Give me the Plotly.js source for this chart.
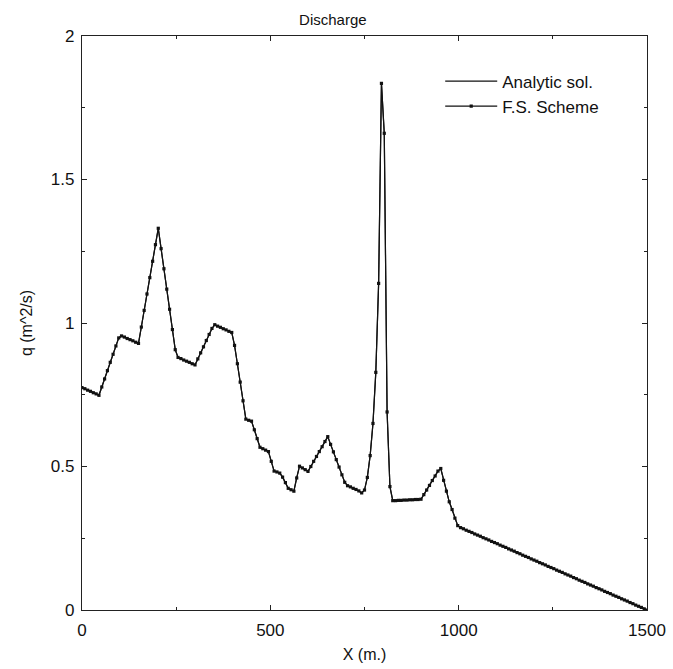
<!DOCTYPE html>
<html>
<head>
<meta charset="utf-8">
<script src="https://cdn.plot.ly/plotly-3.0.1.min.js"></script>
<style>
  html, body { margin: 0; padding: 0; background: #fff; }
  #chart { width: 673px; height: 669px; }
</style>
</head>
<body>
<div id="chart"></div>
<script>
// Grid of the numerical scheme (m)
const gridStart = 0;
const gridStep = 7.5;

// Discharge q (m^2/s) read at each grid node, x = 0 ... 1500 m
const qScheme = [
  0.775, 0.771, 0.766, 0.762, 0.757, 0.753, 0.748, 0.777, 0.805, 0.834,
  0.863, 0.891, 0.920, 0.948, 0.955, 0.951, 0.946, 0.942, 0.938, 0.933,
  0.929, 0.986, 1.044, 1.101, 1.158, 1.215, 1.273, 1.330, 1.259, 1.189,
  1.118, 1.048, 0.977, 0.907, 0.880, 0.876, 0.871, 0.867, 0.863, 0.858,
  0.854, 0.875, 0.896, 0.917, 0.939, 0.960, 0.981, 0.994, 0.989, 0.985,
  0.980, 0.976, 0.971, 0.967, 0.922, 0.858, 0.794, 0.729, 0.665, 0.661,
  0.658, 0.628, 0.597, 0.567, 0.562, 0.557, 0.552, 0.518, 0.484, 0.481,
  0.477, 0.463, 0.444, 0.424, 0.419, 0.414, 0.460, 0.501, 0.495, 0.489,
  0.483, 0.500, 0.518, 0.535, 0.552, 0.569, 0.587, 0.604, 0.577, 0.551,
  0.524, 0.498, 0.471, 0.445, 0.433, 0.429, 0.424, 0.420, 0.415, 0.408,
  0.418, 0.462, 0.538, 0.650, 0.828, 1.138, 1.835, 1.661, 0.690, 0.430,
  0.381, 0.381, 0.382, 0.382, 0.383, 0.383, 0.384, 0.384, 0.385, 0.385,
  0.386, 0.402, 0.418, 0.434, 0.451, 0.467, 0.484, 0.493, 0.452, 0.414,
  0.377, 0.350, 0.320, 0.294, 0.287, 0.283, 0.278, 0.274, 0.270, 0.265,
  0.261, 0.257, 0.252, 0.248, 0.244, 0.239, 0.235, 0.231, 0.226, 0.222,
  0.218, 0.213, 0.209, 0.205, 0.200, 0.196, 0.191, 0.187, 0.183, 0.178,
  0.174, 0.170, 0.165, 0.161, 0.157, 0.152, 0.148, 0.144, 0.139, 0.135,
  0.131, 0.126, 0.122, 0.118, 0.113, 0.109, 0.104, 0.100, 0.096, 0.091,
  0.087, 0.083, 0.078, 0.074, 0.070, 0.065, 0.061, 0.057, 0.052, 0.048,
  0.044, 0.039, 0.035, 0.031, 0.026, 0.022, 0.017, 0.013, 0.009, 0.004,
  0.000
];

// Analytic solution read at the same nodes (curves coincide in the picture)
const qAnalytic = qScheme.slice();

const seriesNames = ['Analytic sol.', 'F.S. Scheme'];
const xTickVals = [0, 500, 1000, 1500];
const yTickVals = [0, 0.5, 1, 1.5, 2];
const yTickText = ['0', '0.5', '1', '1.5', '2'];

const font = 'Liberation Sans, Arial, Helvetica, sans-serif';

const traces = [
  {
    x0: gridStart, dx: gridStep, y: qAnalytic,
    type: 'scatter', mode: 'lines', name: seriesNames[0],
    line: { color: '#111', width: 1.2 }
  },
  {
    x0: gridStart, dx: gridStep, y: qScheme,
    type: 'scatter', mode: 'lines+markers', name: seriesNames[1],
    line: { color: '#111', width: 1.2 },
    marker: { symbol: 'square', size: 3.2, color: '#111' }
  }
];

const axisCommon = {
  showline: true, linecolor: '#222', linewidth: 1.2, mirror: 'ticks',
  ticks: 'inside', ticklen: 5, tickwidth: 1, tickcolor: '#222',
  showgrid: false, zeroline: false,
  tickfont: { family: font, size: 17, color: '#111' }
};

const layout = {
  width: 673, height: 669,
  margin: { l: 82, r: 26, t: 36, b: 59 },
  paper_bgcolor: '#fff', plot_bgcolor: '#fff',
  title: {
    text: 'Discharge', font: { family: font, size: 15, color: '#111' },
    xref: 'paper', x: 0.444, xanchor: 'center',
    yref: 'container', y: 0.970, yanchor: 'middle'
  },
  xaxis: Object.assign({}, axisCommon, {
    range: [0, 1500], tickvals: xTickVals, ticktext: xTickVals.map(String),
    ticklabelstandoff: 4,
    minor: { dtick: 250, tick0: 0, ticks: 'inside', ticklen: 3, tickcolor: '#222' },
    title: { text: 'X (m.)', font: { family: font, size: 16, color: '#111' }, standoff: 10 }
  }),
  yaxis: Object.assign({}, axisCommon, {
    range: [0, 2], tickvals: yTickVals, ticktext: yTickText,
    ticklabelstandoff: 3,
    minor: { dtick: 0.25, tick0: 0, ticks: 'inside', ticklen: 3, tickcolor: '#222' },
    title: { text: 'q (m^2/s)', font: { family: font, size: 16, color: '#111' }, standoff: 14 }
  }),
  showlegend: true,
  legend: {
    x: 0.634, y: 0.952, xanchor: 'left', yanchor: 'top',
    bgcolor: 'rgba(0,0,0,0)', borderwidth: 0,
    font: { family: font, size: 17, color: '#111' },
    itemwidth: 52, tracegroupgap: 8
  }
};

Plotly.newPlot('chart', traces, layout, { staticPlot: true, displayModeBar: false });
</script>
</body>
</html>
